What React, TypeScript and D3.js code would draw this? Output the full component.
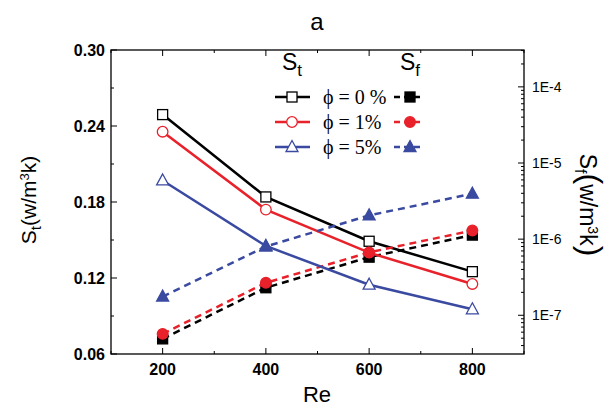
import * as d3 from "d3";

const re = [200, 400, 600, 800];
const stPhi0 = [0.249, 0.184, 0.149, 0.125];
const stPhi1 = [0.2355, 0.174, 0.14, 0.1153];
const stPhi5 = [0.197, 0.1453, 0.1147, 0.0953];
const sfPhi0 = [4.9e-8, 2.3e-7, 5.8e-7, 1.13e-6];
const sfPhi1 = [5.7e-8, 2.67e-7, 6.7e-7, 1.3e-6];
const sfPhi5 = [1.76e-7, 8.0e-7, 2.05e-6, 3.95e-6];
const xTicks = [200, 400, 600, 800];
const yTicks = [0.06, 0.12, 0.18, 0.24, 0.3];
const rTicks = [1e-7, 1e-6, 1e-5, 1e-4];
const rLabels = ["1E-7", "1E-6", "1E-5", "1E-4"];
const legendLabels = ["\u03d5 = 0 %", "\u03d5 = 1%", "\u03d5 = 5%"];

const L = 111, R = 524, T = 50, B = 354;
const font = "Arial, 'Liberation Sans', sans-serif";

export default function App() {
  const x = d3.scaleLinear().domain([100, 900]).range([L, R]);
  const y = d3.scaleLinear().domain([0.06, 0.3]).range([B, T]);
  const yr = d3.scaleLog().domain([3.1e-8, 3.05e-4]).range([B, T]);
  const series = [
    { st: stPhi0, sf: sfPhi0, color: "#000000", shape: "square" },
    { st: stPhi1, sf: sfPhi1, color: "#e8212a", shape: "circle" },
    { st: stPhi5, sf: sfPhi5, color: "#3a4aa0", shape: "triangle" },
  ];
  const marker = (shape: string, cx: number, cy: number, color: string, filled: boolean, key: string) => {
    const fill = filled ? color : "#fff";
    if (shape === "square")
      return <rect key={key} x={cx - 5} y={cy - 5} width={10} height={10} fill={fill} stroke={color} strokeWidth={1.3} />;
    if (shape === "circle")
      return <circle key={key} cx={cx} cy={cy} r={5.3} fill={fill} stroke={color} strokeWidth={1.3} />;
    return <path key={key} d={`M${cx},${cy - 6.5}L${cx + 6},${cy + 4.5}L${cx - 6},${cy + 4.5}Z`} fill={fill} stroke={color} strokeWidth={1.3} />;
  };
  const lineSt = (vals: number[]) => d3.line<number>().x((_, i) => x(re[i])).y((v) => y(v))(vals) ?? "";
  const lineSf = (vals: number[]) => d3.line<number>().x((_, i) => x(re[i])).y((v) => yr(v))(vals) ?? "";
  const minorX = d3.range(100, 901, 100);
  const minorY = d3.range(0.06, 0.301, 0.03);
  const minorR: number[] = [];
  for (let e = -8; e <= -4; e++) for (let m = 1; m < 10; m++) {
    const v = m * Math.pow(10, e);
    if (v >= 3.1e-8 && v <= 3.05e-4) minorR.push(v);
  }
  return (
    <svg width={615} height={413} style={{ position: "absolute", left: 0, top: 0, background: "#fff" }} fontFamily={font}>
      <text x={317} y={30} fontSize={24} textAnchor="middle">a</text>
      {series.map((s, k) => (
        <g key={k}>
          <path d={lineSt(s.st)} fill="none" stroke={s.color} strokeWidth={2.5} />
          <path d={lineSf(s.sf)} fill="none" stroke={s.color} strokeWidth={2.5} strokeDasharray="7,5" />
          {s.st.map((v, i) => marker(s.shape, x(re[i]), y(v), s.color, false, "o" + i))}
          {s.sf.map((v, i) => marker(s.shape, x(re[i]), yr(v), s.color, true, "f" + i))}
        </g>
      ))}
      <rect x={L} y={T} width={R - L} height={B - T} fill="none" stroke="#000" strokeWidth={1.3} />
      {minorX.map((t) => (
        <g key={"x" + t} stroke="#000">
          <line x1={x(t)} x2={x(t)} y1={B} y2={B - (t % 200 === 0 ? 6 : 3)} />
          <line x1={x(t)} x2={x(t)} y1={T} y2={T + (t % 200 === 0 ? 6 : 3)} />
        </g>
      ))}
      {minorY.map((t, i) => (
        <line key={"y" + i} x1={L} x2={L + (i % 2 === 0 ? 6 : 3)} y1={y(t)} y2={y(t)} stroke="#000" />
      ))}
      {minorR.map((t, i) => {
        const major = rTicks.some((r) => Math.abs(r - t) / t < 1e-6);
        return <line key={"r" + i} x1={R} x2={R - (major ? 6 : 3)} y1={yr(t)} y2={yr(t)} stroke="#000" />;
      })}
      {xTicks.map((t) => (
        <text key={t} x={x(t)} y={B + 21} fontSize={16} fontWeight="bold" textAnchor="middle">{t}</text>
      ))}
      {yTicks.map((t) => (
        <text key={t} x={L - 6} y={y(t) + 6} fontSize={16} fontWeight="bold" textAnchor="end">{t.toFixed(2)}</text>
      ))}
      {rTicks.map((t, i) => (
        <text key={t} x={R + 8} y={yr(t) + 5} fontSize={14}>{rLabels[i]}</text>
      ))}
      <text x={317} y={402} fontSize={22} textAnchor="middle">Re</text>
      <text transform="translate(36,200) rotate(-90)" fontSize={21} textAnchor="middle">
        S<tspan fontSize={15} dy={5}>t</tspan><tspan dy={-5}>(w/m</tspan><tspan fontSize={13} dy={-7}>3</tspan><tspan dy={7}>k)</tspan>
      </text>
      <text transform="translate(580,205) rotate(90)" fontSize={23} textAnchor="middle">
        S<tspan fontSize={16} dy={5}>f</tspan><tspan dy={-5} fontSize={32}>(</tspan><tspan>w/m</tspan><tspan fontSize={14} dy={-8}>3</tspan><tspan dy={8}>k</tspan><tspan fontSize={32}>)</tspan>
      </text>
      <text x={282} y={70} fontSize={23}>S<tspan fontSize={17} dy={6}>t</tspan></text>
      <text x={400} y={70} fontSize={23}>S<tspan fontSize={17} dy={6}>f</tspan></text>
      {series.map((s, k) => {
        const ly = 97 + k * 25;
        return (
          <g key={"l" + k}>
            <line x1={275} x2={310} y1={ly} y2={ly} stroke={s.color} strokeWidth={2.5} />
            {marker(s.shape, 292, ly, s.color, false, "lm")}
            <text x={323} y={ly + 7} fontSize={20} fontFamily="'Liberation Serif', serif">{legendLabels[k]}</text>
            <line x1={394} x2={423} y1={ly} y2={ly} stroke={s.color} strokeWidth={2.5} strokeDasharray="6,4" />
            {marker(s.shape, 410, ly, s.color, true, "lf")}
          </g>
        );
      })}
    </svg>
  );
}
